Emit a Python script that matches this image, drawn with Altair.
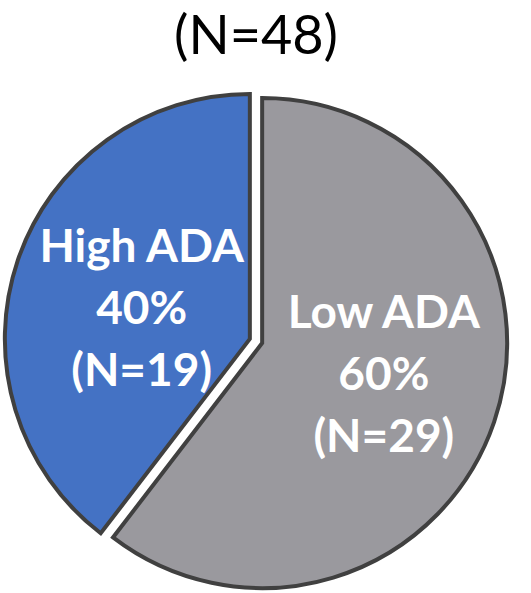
import math
import altair as alt
import pandas as pd

# Slice data
groups = ["Low ADA", "High ADA"]
counts = [29, 19]
colors = ["#9A999E", "#4472C4"]

total = sum(counts)
W, H = 531, 593
CX, CY = 256, 341          # pie centre
R = 245                    # pie radius
EXPLODE = 6.5              # distance each slice is pulled out
LABEL_R = {"Low ADA": 126, "High ADA": 112}   # label distance from slice centre
LABEL_TURN = -0.5          # small anticlockwise nudge of labels (theta units)
LINE_H = 62
FONT = "Lato"

layers = []
start = 0
for name, n, col in zip(groups, counts, colors):
    end = start + n
    mid = (start + end) / 2
    ang = mid / total * 2 * math.pi
    # shift the slice centre along its bisector
    sx = CX + EXPLODE * math.sin(ang)
    sy = CY - EXPLODE * math.cos(ang)
    pct = round(100 * n / total)
    df = pd.DataFrame({
        "group": [name],
        "start": [start],
        "end": [end],
        "mid": [mid + LABEL_TURN],
        "label": [f"{name}\n{pct}%\n(N={n})"],
    })
    theta_scale = alt.Scale(domain=[0, total])
    base = alt.Chart(df)
    arc = base.mark_arc(
        outerRadius=R, stroke="#404040", strokeWidth=4, strokeJoin="miter",
        color=col,
    ).encode(
        theta=alt.Theta("start:Q", scale=theta_scale),
        theta2="end:Q",
        x=alt.value(sx),
        y=alt.value(sy),
    )
    # three-line label, centred on its middle line
    text = base.mark_text(
        font=FONT, fontWeight="bold", fontSize=46, color="white",
        lineBreak="\n", lineHeight=LINE_H, align="center", baseline="middle",
        dy=-LINE_H,
    ).encode(
        theta=alt.Theta("mid:Q", scale=theta_scale),
        radius=alt.value(LABEL_R[name]),
        x=alt.value(sx),
        y=alt.value(sy),
        text="label:N",
    )
    layers += [arc, text]
    start = end

title_df = pd.DataFrame({"t": [f"(N={total})"]})
title = alt.Chart(title_df).mark_text(
    font=FONT, fontSize=54, color="black", align="center", baseline="middle",
).encode(x=alt.value(256), y=alt.value(38), text="t:N")

chart = alt.layer(*layers, title).resolve_scale(theta="independent").properties(
    width=W, height=H, padding=0, autosize=alt.AutoSizeParams(type="none"),
).configure_view(stroke=None)

chart.save("out.html", embed_options={"renderer": "svg", "actions": False})
